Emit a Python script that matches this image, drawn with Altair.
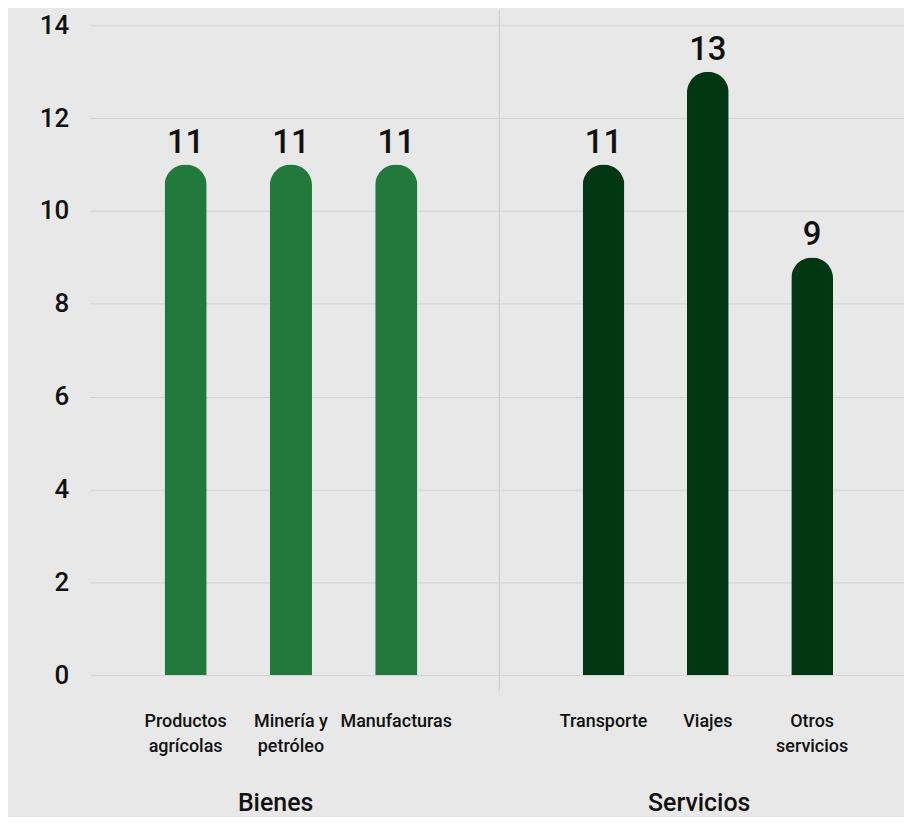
import altair as alt
import pandas as pd

# ---- data ----
bienes_cat = ["Productos|agrícolas", "Minería y|petróleo", "Manufacturas"]
bienes_val = [11, 11, 11]
servicios_cat = ["Transporte", "Viajes", "Otros|servicios"]
servicios_val = [11, 13, 9]
y_ticks = [0, 2, 4, 6, 8, 10, 12, 14]

FONT = "Roboto"
BG = "#e8e8e8"
GRID = "#d2d2d2"
H = 652

df_b = pd.DataFrame({"cat": bienes_cat, "val": bienes_val, "grupo": "Bienes"})
df_s = pd.DataFrame({"cat": servicios_cat, "val": servicios_val, "grupo": "Servicios"})


def panel(df, color, title, width, align, title_x, show_y):
    x = alt.X(
        "cat:N",
        sort=None,
        title=title,
        scale=alt.Scale(paddingInner=0.6, paddingOuter=0.74, align=align),
        axis=alt.Axis(
            labelExpr="split(datum.label, '|')",
            labelAngle=0,
            labelFont=FONT,
            labelFontSize=18,
            labelFontWeight=500,
            labelColor="#111111",
            labelLineHeight=25,
            labelPadding=38,
            labelBaseline="top",
            ticks=False,
            tickSize=0,
            domain=False,
            grid=False,
            titleFont=FONT,
            titleFontSize=25,
            titleFontWeight=500,
            titleColor="#111111",
            titlePadding=35,
            titleX=title_x,
        ),
    )
    if show_y:
        yaxis = alt.Axis(
            values=y_ticks,
            labelFont=FONT,
            labelFontSize=26,
            labelFontWeight=500,
            labelColor="#111111",
            labelPadding=21,
            ticks=False,
            tickSize=0,
            domain=False,
            grid=True,
            gridColor=GRID,
            title=None,
        )
    else:
        yaxis = alt.Axis(
            values=y_ticks,
            labels=False,
            ticks=False,
            tickSize=0,
            domain=False,
            grid=True,
            gridColor=GRID,
            title=None,
        )
    y = alt.Y("val:Q", scale=alt.Scale(domain=[0, 14], nice=False), axis=yaxis)
    base = alt.Chart(df)
    bars = base.mark_bar(
        color=color, cornerRadiusTopLeft=21, cornerRadiusTopRight=21
    ).encode(x=x, y=y)
    text = base.mark_text(
        font=FONT, fontSize=33, fontWeight=500, color="#111111",
        baseline="alphabetic", dy=-12,
    ).encode(x=alt.X("cat:N", sort=None), y=alt.Y("val:Q"), text=alt.Text("val:Q"))
    layers = [bars, text]
    if not show_y:
        sep = base.mark_rule(color=GRID, strokeWidth=1).encode(
            x=alt.value(0), y=alt.value(-15), y2=alt.value(H + 16)
        )
        layers = [sep] + layers
    return alt.layer(*layers).properties(width=width, height=H)


left = panel(df_b, "#217a3c", "Bienes", 410, 0.48, 186, True)
right = panel(df_s, "#023714", "Servicios", 406, 0.54, 200, False)

chart = (
    alt.hconcat(left, right, spacing=0)
    .resolve_scale(x="independent")
    .properties(background=BG, padding={"left": 31, "top": 0, "right": 0, "bottom": 0})
    .configure_view(stroke=None)
)

chart.save("out.html", embed_options={"renderer": "svg", "actions": False})
